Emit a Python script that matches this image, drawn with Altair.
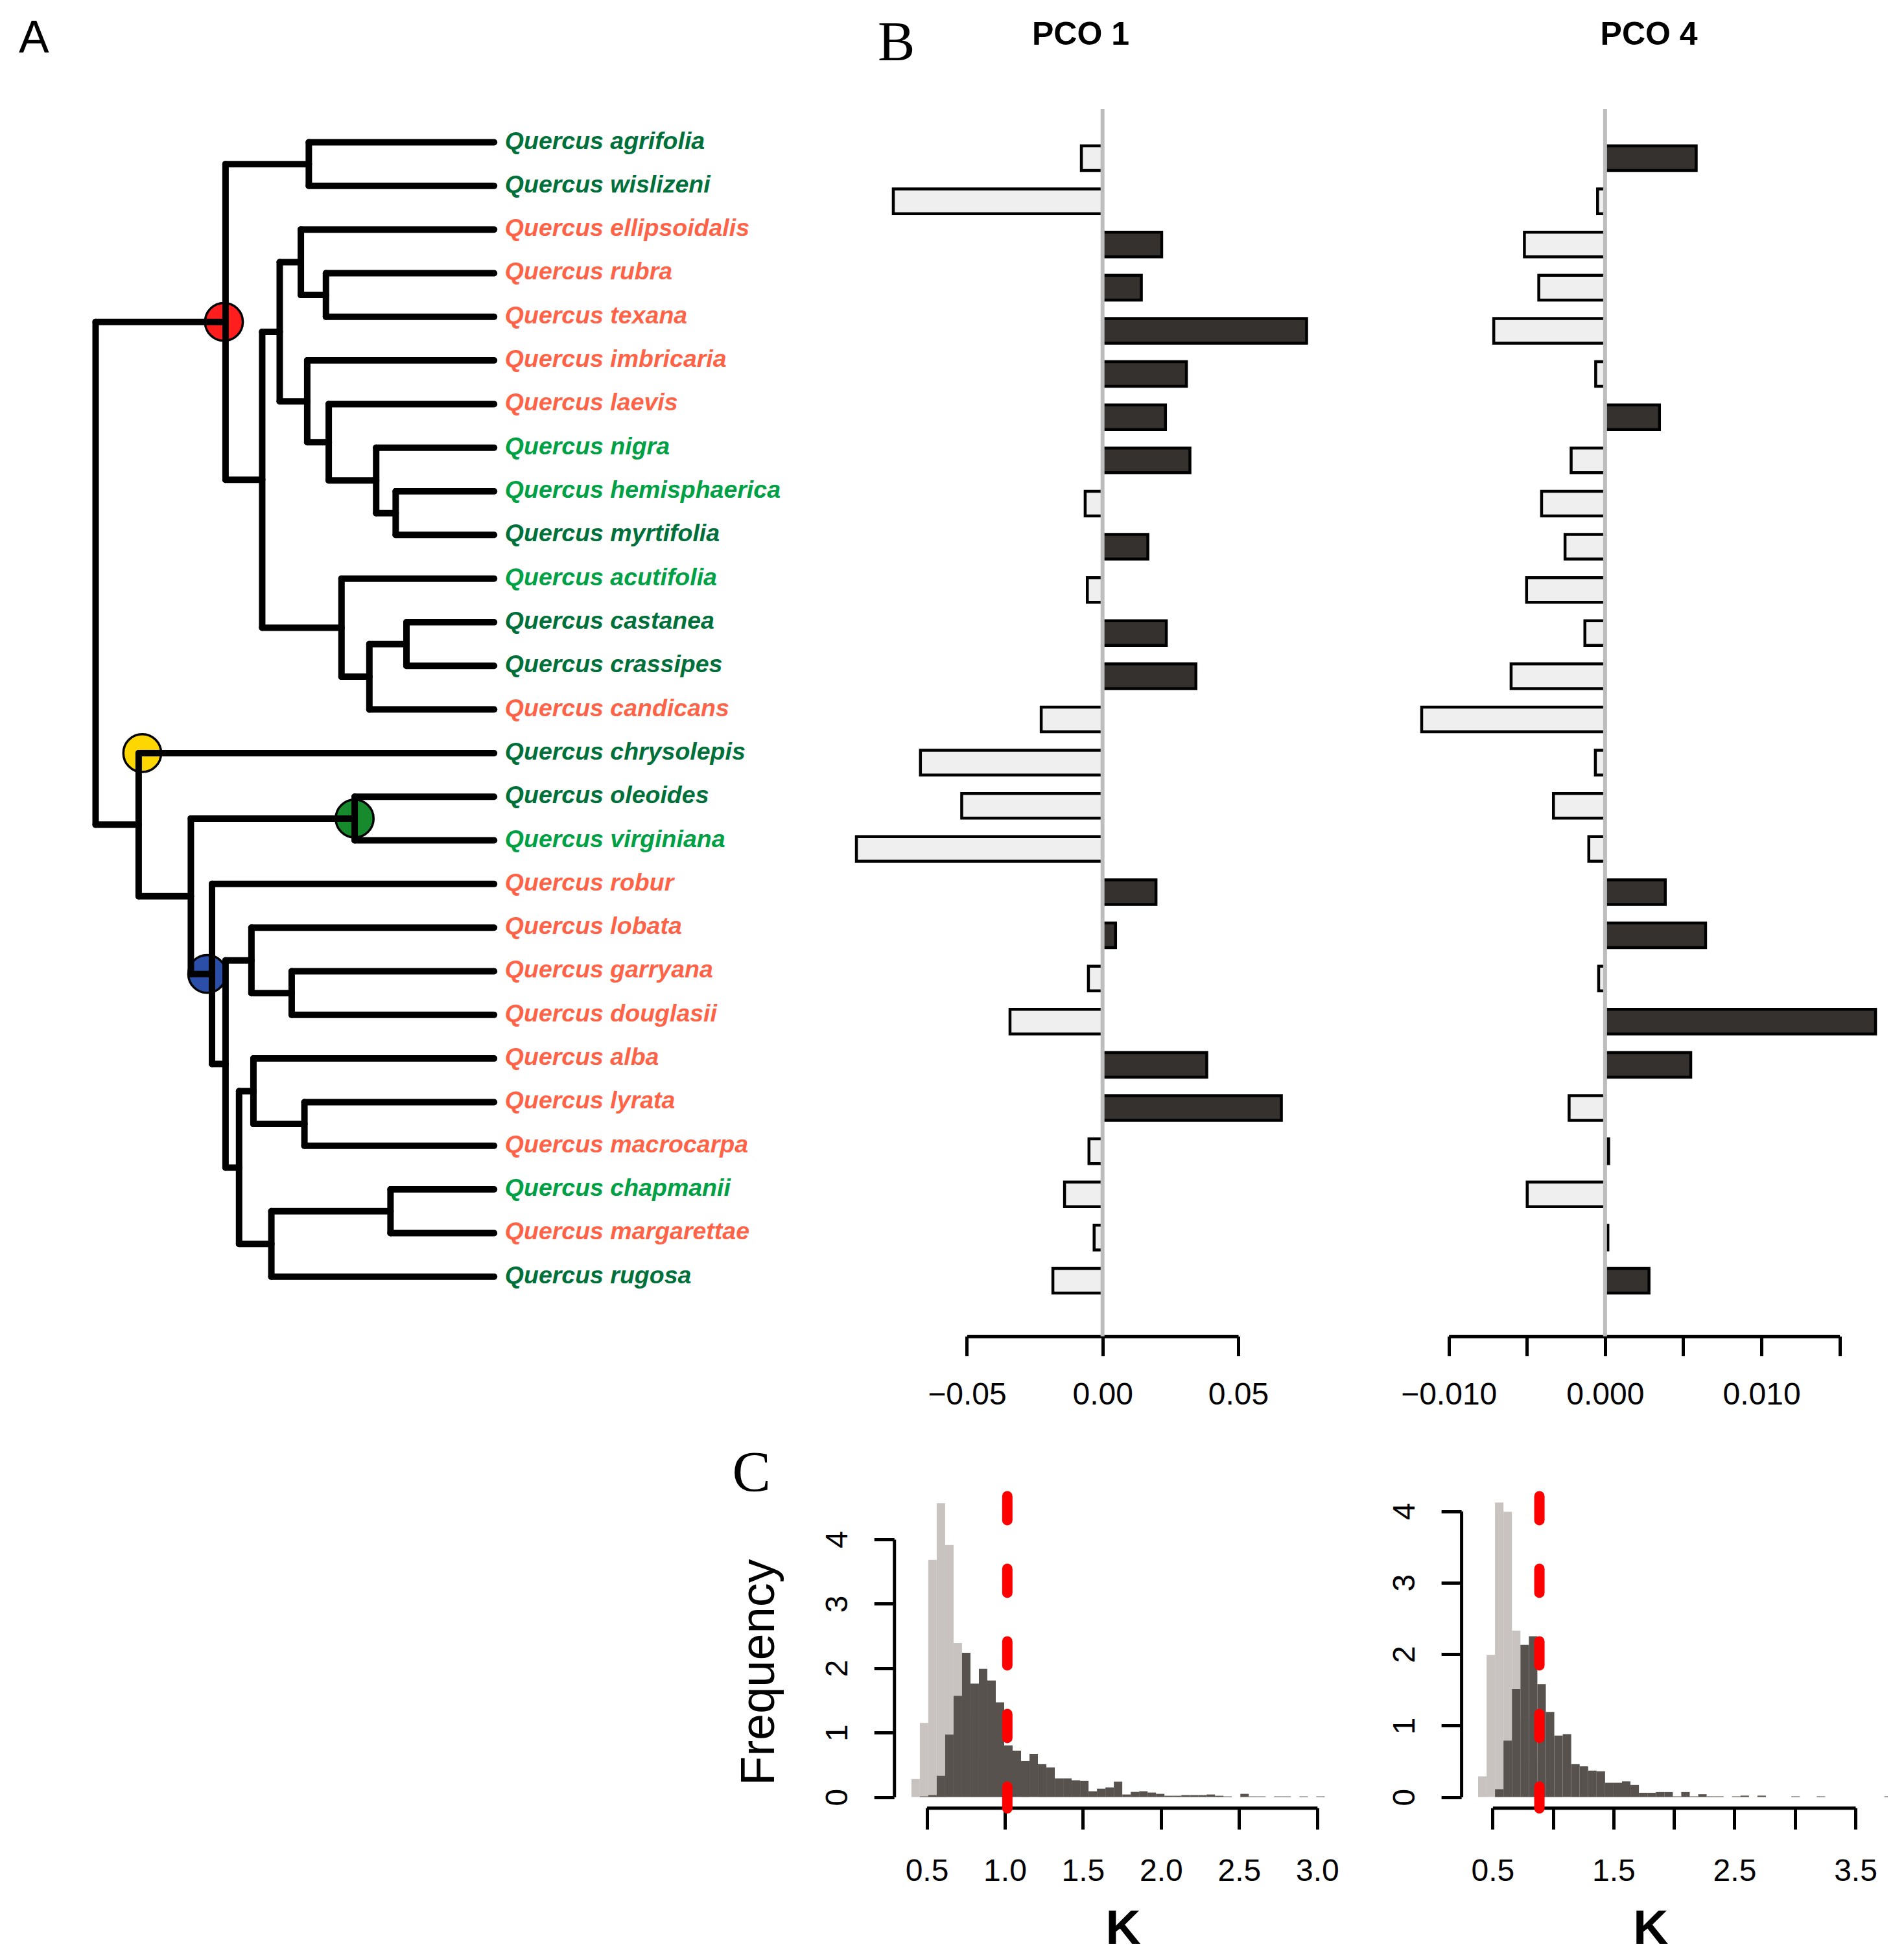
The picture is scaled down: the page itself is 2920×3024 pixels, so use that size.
import altair as alt
import pandas as pd

# ---------------- data ----------------
species = ["Quercus agrifolia", "Quercus wislizeni", "Quercus ellipsoidalis", "Quercus rubra",
           "Quercus texana", "Quercus imbricaria", "Quercus laevis", "Quercus nigra",
           "Quercus hemisphaerica", "Quercus myrtifolia", "Quercus acutifolia", "Quercus castanea",
           "Quercus crassipes", "Quercus candicans", "Quercus chrysolepis", "Quercus oleoides",
           "Quercus virginiana", "Quercus robur", "Quercus lobata", "Quercus garryana",
           "Quercus douglasii", "Quercus alba", "Quercus lyrata", "Quercus macrocarpa",
           "Quercus chapmanii", "Quercus margarettae", "Quercus rugosa"]
label_group = ["dark", "dark", "orange", "orange", "orange", "orange", "orange", "light", "light",
               "dark", "light", "dark", "dark", "orange", "dark", "dark", "light", "orange",
               "orange", "orange", "orange", "orange", "orange", "orange", "light", "orange", "dark"]
group_colors = {"dark": "#00703a", "light": "#00a145", "orange": "#ff6347"}

pco1 = [-0.0078, -0.0771, 0.0218, 0.0143, 0.0752, 0.0309, 0.0232, 0.0322, -0.0064, 0.0167,
        -0.0056, 0.0235, 0.0344, -0.0226, -0.0671, -0.0519, -0.0907, 0.0197, 0.0048, -0.0052,
        -0.0341, 0.0384, 0.0659, -0.0050, -0.0140, -0.0031, -0.0183]
pco4 = [0.00583, -0.00048, -0.00516, -0.00424, -0.00712, -0.00060, 0.00348, -0.00217, -0.00406,
        -0.00256, -0.00502, -0.00129, -0.00601, -0.01173, -0.00062, -0.00330, -0.00104, 0.00385,
        0.00643, -0.00041, 0.01730, 0.00548, -0.00230, 0.00023, -0.00498, 0.00018, 0.00281]

# internal nodes: depth (root = 0, tips = 1) and children (top to bottom)
tree = {
    "root": (0.000, ["n_red", "n_yel"]),
    "n_red": (0.326, ["n_aw", "n488"]),
    "n_aw": (0.535, ["Quercus agrifolia", "Quercus wislizeni"]),
    "n488": (0.418, ["n521", "n636"]),
    "n521": (0.462, ["n560", "n572"]),
    "n560": (0.515, ["Quercus ellipsoidalis", "n607"]),
    "n607": (0.578, ["Quercus rubra", "Quercus texana"]),
    "n572": (0.531, ["Quercus imbricaria", "n612"]),
    "n612": (0.585, ["Quercus laevis", "n700"]),
    "n700": (0.704, ["Quercus nigra", "n737"]),
    "n737": (0.753, ["Quercus hemisphaerica", "Quercus myrtifolia"]),
    "n636": (0.617, ["Quercus acutifolia", "n688"]),
    "n688": (0.687, ["n757", "Quercus candicans"]),
    "n757": (0.780, ["Quercus castanea", "Quercus crassipes"]),
    "n_yel": (0.108, ["Quercus chrysolepis", "n355"]),
    "n355": (0.239, ["n_grn", "n395"]),
    "n_grn": (0.650, ["Quercus oleoides", "Quercus virginiana"]),
    "n395": (0.292, ["Quercus robur", "n420"]),
    "n420": (0.326, ["n468", "n445"]),
    "n468": (0.391, ["Quercus lobata", "n543"]),
    "n543": (0.492, ["Quercus garryana", "Quercus douglasii"]),
    "n445": (0.360, ["n472", "n505"]),
    "n472": (0.396, ["Quercus alba", "n567"]),
    "n567": (0.524, ["Quercus lyrata", "Quercus macrocarpa"]),
    "n505": (0.441, ["n727", "Quercus rugosa"]),
    "n727": (0.740, ["Quercus chapmanii", "Quercus margarettae"]),
}
circle_at = ["n_red", "Quercus chrysolepis", "n_grn", "n395"]
circle_depth = [0.322, 0.117, 0.650, 0.280]
circle_color = ["#ff1e1e", "#ffd700", "#178a2e", "#2b4ea8"]

# histograms (density), bins of equal width
h1_start, h1_width = 0.402, 0.054
h1_null = [0.28, 1.15, 3.68, 4.56, 3.91, 2.39, 1.25, 0.62, 0.30, 0.14, 0.06, 0.02]
h1_obs = [0.0, 0.01, 0.03, 0.33, 0.97, 1.57, 2.24, 1.76, 1.99, 1.81, 1.47, 0.80, 0.72, 0.56,
          0.67, 0.51, 0.46, 0.29, 0.29, 0.26, 0.25, 0.09, 0.13, 0.15, 0.24, 0.04, 0.08, 0.09,
          0.07, 0.05, 0.02, 0.02, 0.03, 0.03, 0.03, 0.04, 0.02, 0.01, 0.0, 0.05, 0.01, 0.01,
          0.0, 0.01, 0.01, 0.0, 0.01, 0.0, 0.01]
h1_k = 1.016

h2_start, h2_width = 0.38, 0.07
h2_null = [0.29, 1.99, 4.12, 3.99, 2.33, 1.10, 0.50, 0.22, 0.08, 0.03]
h2_obs = [0.0, 0.0, 0.11, 0.79, 1.51, 2.13, 2.25, 1.58, 1.19, 0.86, 0.88, 0.46, 0.43, 0.37,
          0.36, 0.20, 0.20, 0.22, 0.17, 0.06, 0.06, 0.07, 0.07, 0.01, 0.07, 0.01, 0.04, 0.01,
          0.01, 0.0, 0.01, 0.02, 0.0, 0.02, 0.0, 0.0, 0.0, 0.01, 0.0, 0.0, 0.01, 0.0, 0.0,
          0.0, 0.0, 0.0, 0.0, 0.0, 0.01]
h2_k = 0.887

# ---------------- tables ----------------
tip_index = {s: i for i, s in enumerate(species)}


def node_y(n):
    if n in tip_index:
        return float(tip_index[n])
    ch = tree[n][1]
    return (node_y(ch[0]) + node_y(ch[-1])) / 2.0


def node_depth(n):
    return 1.0 if n in tip_index else tree[n][0]


segs = []
for n, (d, ch) in tree.items():
    segs.append(dict(x=d, x2=d, y=node_y(ch[0]), y2=node_y(ch[-1])))
    for c in ch:
        segs.append(dict(x=d, x2=node_depth(c), y=node_y(c), y2=node_y(c)))
seg_df = pd.DataFrame(segs)

tips_df = pd.DataFrame({"species": species, "idx": list(range(len(species))),
                        "depth": [1.0] * len(species),
                        "color": [group_colors[g] for g in label_group]})
circ_df = pd.DataFrame({"depth": circle_depth, "y": [node_y(n) for n in circle_at],
                        "color": circle_color})


def bar_df(vals):
    return pd.DataFrame({"species": species, "v": vals, "zero": [0.0] * len(vals),
                         "fill": ["#35312e" if v > 0 else "#efefef" for v in vals]})


def hist_df(start, width, heights):
    n = len(heights)
    return pd.DataFrame({"lo": [start + width * i for i in range(n)],
                         "hi": [start + width * (i + 1) for i in range(n)],
                         "h": heights, "base": [0.0] * n})


one = pd.DataFrame({"a": [0]})

# ---------------- geometry ----------------
W, H = 2904, 3008


def qs(domain, rng):
    return alt.Scale(domain=domain, range=rng, nice=False, zero=False)


TX = qs([0, 1], [139.5, 754.2])
TY = qs([0, 26], [211.5, 1961.7])
BY = alt.Scale(domain=species, range=[202.7, 2001.3], paddingInner=0.429, paddingOuter=0.2146)
P1X = qs([-0.05, 0.05], [1483.4, 1902.0])
P4X = qs([-0.010, 0.015], [2226.7, 2829.6])
H1X = qs([0.5, 3.0], [1421.5, 2023.8])
H1Y = qs([0, 4], [2764.6, 2366.9])
H2X = qs([0.5, 3.5], [2294.4, 2854.0])
H2Y = qs([0, 4], [2764.6, 2323.5])

axis_style = dict(domainColor="black", domainWidth=5, tickColor="black", tickWidth=5,
                  labelColor="black", labelFont="Liberation Sans", labelFontSize=48,
                  labelFlush=False, labelOverlap=False, grid=False)

# ---------------- layers ----------------
circles = alt.Chart(circ_df).mark_point(shape="circle", filled=True, size=3400, stroke="black",
                                         strokeWidth=3.5, opacity=1).encode(
    x=alt.X("depth:Q", scale=TX, axis=None),
    y=alt.Y("y:Q", scale=TY, axis=None),
    fill=alt.Fill("color:N", scale=None))

branches = alt.Chart(seg_df).mark_rule(color="black", strokeWidth=10, strokeCap="round").encode(
    x=alt.X("x:Q", scale=TX, axis=None), x2="x2:Q",
    y=alt.Y("y:Q", scale=TY, axis=None), y2="y2:Q")

tip_labels = alt.Chart(tips_df).mark_text(
    align="left", baseline="alphabetic", dx=16.6, dy=10, font="Liberation Sans",
    fontSize=37.5, fontStyle="italic", fontWeight="bold").encode(
    x=alt.X("depth:Q", scale=TX, axis=None),
    y=alt.Y("idx:Q", scale=TY, axis=None),
    text="species:N",
    color=alt.Color("color:N", scale=None))

bars1 = alt.Chart(bar_df(pco1)).mark_bar(stroke="black", strokeWidth=4.5).encode(
    x=alt.X("v:Q", scale=P1X, title=None,
            axis=alt.Axis(orient="bottom", offset=2053.7 - H, values=[-0.05, 0.0, 0.05],
                          format=".2f", tickSize=30, labelPadding=37, labelBaseline="top",
                          **axis_style)),
    x2="zero:Q",
    y=alt.Y("species:N", scale=BY, axis=None),
    fill=alt.Fill("fill:N", scale=None))

zero1 = alt.Chart(one).mark_rule(color="#bdbdbd", strokeWidth=6).encode(
    x=alt.X("a:Q", scale=P1X, axis=None), y=alt.value(160), y2=alt.value(2053.7))

bars4 = alt.Chart(bar_df(pco4)).mark_bar(stroke="black", strokeWidth=4.5).encode(
    x=alt.X("v:Q", scale=P4X, title=None,
            axis=alt.Axis(orient="bottom", offset=2053.7 - H,
                          values=[-0.010, -0.005, 0.0, 0.005, 0.010, 0.015],
                          format=".3f", tickSize=30, labelPadding=37, labelBaseline="top",
                          labelExpr="abs(round(datum.value*1000)) % 10 == 0 ? datum.label : ''",
                          **axis_style)),
    x2="zero:Q",
    y=alt.Y("species:N", scale=BY, axis=None),
    fill=alt.Fill("fill:N", scale=None))

zero4 = alt.Chart(one).mark_rule(color="#bdbdbd", strokeWidth=6).encode(
    x=alt.X("a:Q", scale=P4X, axis=None), y=alt.value(160), y2=alt.value(2053.7))


def hist_layers(start, width, null, obs, k, XS, YS, xvals, xlabelexpr, yaxis_x):
    null_l = alt.Chart(hist_df(start, width, null)).mark_rect(color="#c8c3c0").encode(
        x=alt.X("lo:Q", scale=XS, title=None,
                axis=alt.Axis(orient="bottom", offset=2781.2 - H, values=xvals, format=".1f",
                              tickSize=33, labelPadding=41.6, labelBaseline="top",
                              labelExpr=xlabelexpr, **axis_style)),
        x2="hi:Q",
        y=alt.Y("h:Q", scale=YS, title=None,
                axis=alt.Axis(orient="left", offset=-yaxis_x, values=[0, 1, 2, 3, 4],
                              format="d", tickSize=31, labelAngle=-90, labelAlign="center",
                              labelBaseline="alphabetic", labelPadding=41.5, **axis_style)),
        y2="base:Q")
    obs_l = alt.Chart(hist_df(start, width, obs)).mark_rect(color="#58524f").encode(
        x=alt.X("lo:Q", scale=XS, axis=None), x2="hi:Q",
        y=alt.Y("h:Q", scale=YS, axis=None), y2="base:Q")
    kline = alt.Chart(pd.DataFrame({"k": [k]})).mark_rule(
        color="#ff0000", strokeWidth=16, strokeDash=[37, 75], strokeCap="round").encode(
        x=alt.X("k:Q", scale=XS, axis=None), y=alt.value(2300.4), y2=alt.value(2782))
    return [null_l, obs_l, kline]


h1 = hist_layers(h1_start, h1_width, h1_null, h1_obs, h1_k, H1X, H1Y,
                 [0.5, 1.0, 1.5, 2.0, 2.5, 3.0], "datum.label", 1371.2)
h2 = hist_layers(h2_start, h2_width, h2_null, h2_obs, h2_k, H2X, H2Y,
                 [0.5, 1.0, 1.5, 2.0, 2.5, 3.0, 3.5],
                 "round(datum.value*10) % 10 == 5 ? datum.label : ''", 2246.1)


def label(text, x, y, font="Liberation Sans", size=48, weight="normal", align="left", angle=0):
    return alt.Chart(one).mark_text(text=text, font=font, fontSize=size, fontWeight=weight,
                                    align=align, baseline="alphabetic", angle=angle,
                                    color="black").encode(x=alt.value(x), y=alt.value(y))


texts = [
    label("A", 21, 72.6, size=70),
    label("B", 1346, 85.3, font="Liberation Serif", size=86),
    label("C", 1121.5, 2292.4, font="Liberation Serif", size=89),
    label("PCO 1", 1659, 61, size=50, weight="bold", align="center"),
    label("PCO 4", 2535.6, 61, size=50, weight="bold", align="center"),
    label("Frequency", 1186.4, 2572, size=74, align="center", angle=270),
    label("K", 1724.6, 2991, size=75, weight="bold", align="center"),
    label("K", 2538.4, 2991, size=75, weight="bold", align="center"),
]

layers = [circles, branches, tip_labels, bars1, zero1, bars4, zero4] + h1 + h2 + texts

chart = alt.layer(*layers).resolve_scale(x="independent", y="independent").properties(
    width=W, height=H, padding=0, background="white",
    autosize=alt.AutoSizeParams(type="none")
).configure_view(strokeWidth=0)

chart.save("out.html", embed_options={"renderer": "svg", "actions": False})
